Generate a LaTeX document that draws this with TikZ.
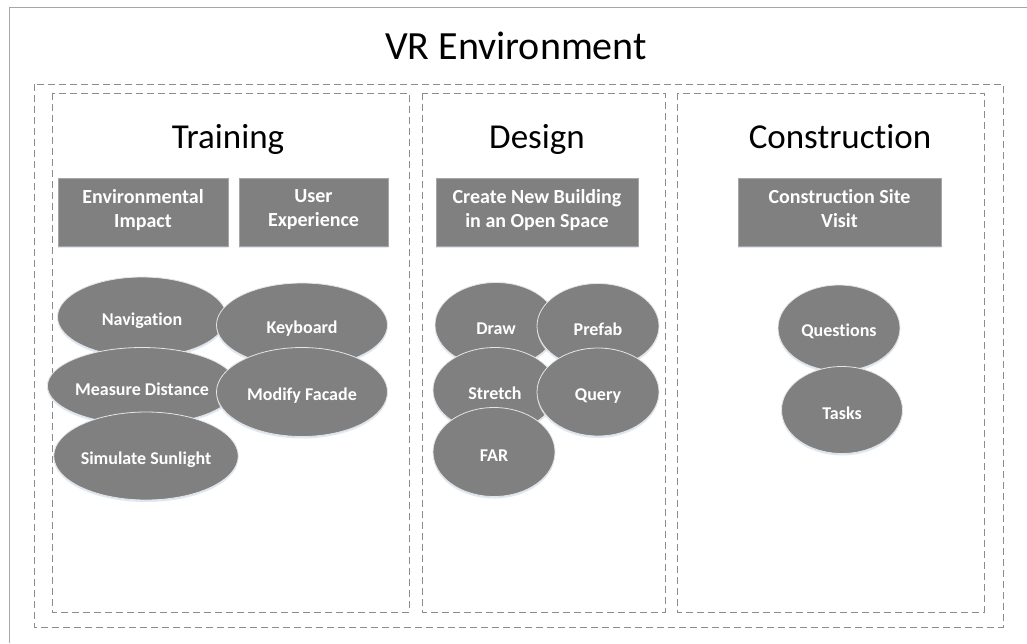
\documentclass[tikz,border=0pt]{standalone}
\usepackage{fontspec}
\setmainfont{Carlito}[Ligatures={NoCommon,NoDiscretionary,NoRare}]
\usetikzlibrary{shapes.geometric,shadows}
\definecolor{boxgray}{RGB}{128,128,128}
\definecolor{linegray}{RGB}{140,140,140}
\definecolor{framegray}{RGB}{166,166,166}
\definecolor{glow}{RGB}{214,228,242}
\begin{document}
\begin{tikzpicture}[x=1pt,y=-1pt]
        \tikzset{
            panel/.style={draw=linegray,dash pattern=on 7pt off 4pt,line width=0.8pt},
            heading/.style={anchor=base,font=\fontsize{35}{40}\selectfont},
            taskbox/.style={rectangle,fill=boxgray,draw=framegray,line width=0.6pt,
                    text=white,align=center,inner sep=0pt,minimum height=68pt,
                    font=\fontsize{20}{24}\selectfont\bfseries,
                    execute at begin node=\rule{0pt}{25pt},execute at end node=\strut,
                    drop shadow={shadow xshift=0pt,shadow yshift=-2pt,fill=glow,opacity=0.8}},
            activity/.style={ellipse,fill=boxgray,draw=white!80!gray,line width=0.8pt,
                    text=white,inner sep=0pt,font=\fontsize{18}{22}\selectfont\bfseries,
                    execute at begin node=\rule[-2pt]{0pt}{22pt},
                    drop shadow={shadow xshift=0pt,shadow yshift=-2pt,fill=glow,opacity=0.8}}
        }
        \useasboundingbox (0,0) rectangle (1027,643);

        % outer frame and panels
        \draw[framegray,line width=0.8pt] (1027,7) -- (9,7) -- (9,643);
        \node[anchor=base,font=\fontsize{40}{48}\selectfont] (vr) at (516,59) {VR Environment};
        \draw[panel] (34,84) rectangle (1003,627);
        \draw[panel] (52,93) rectangle (409,612);
        \draw[panel] (422,93) rectangle (665,612);
        \draw[panel] (677,93) rectangle (984,612);

        \node[heading] (training) at (228,148) {Training};
        \node[heading] (design) at (537,148) {Design};
        \node[heading] (construction) at (840,148) {Construction};

        \node[taskbox,minimum width=170pt] (env) at (143,212) {Environmental\\Impact};
        \node[taskbox,minimum width=149pt] (user) at (313.5,212) {User\\Experience};
        \node[taskbox,minimum width=202pt] (create) at (537,212) {Create New Building\\in an Open Space};
        \node[taskbox,minimum width=203pt] (site) at (839.5,212) {Construction Site\\Visit};

        % training
        \node[activity,minimum width=169pt,minimum height=80pt] (nav) at (142,317) {Navigation};
        \node[activity,minimum width=171pt,minimum height=84pt] (keyb) at (302,325) {Keyboard};
        \node[activity,minimum width=167pt,minimum height=77pt] (meas) at (142,386) {Measure Distance};
        \node[activity,minimum width=171pt,minimum height=89pt] (facade) at (302,392) {Modify Facade};
        \node[activity,minimum width=172pt,minimum height=88pt] (sun) at (146,456) {Simulate Sunlight};

        % design
        \node[activity,minimum width=122pt,minimum height=85pt] (draw) at (496,325) {Draw};
        \node[activity,minimum width=122pt,minimum height=85pt] (prefab) at (598,326) {Prefab};
        \node[activity,minimum width=124pt,minimum height=85pt] (stretch) at (495,390) {Stretch};
        \node[activity,minimum width=122pt,minimum height=88pt] (query) at (598,392) {Query};
        \node[activity,minimum width=122pt,minimum height=89pt] (far) at (494,452) {FAR};

        % construction
        \node[activity,minimum width=122pt,minimum height=86pt] (quest) at (839,328) {Questions};
        \node[activity,minimum width=121pt,minimum height=87pt] (tasks) at (842,410) {Tasks};

    \end{tikzpicture}
\end{document}
